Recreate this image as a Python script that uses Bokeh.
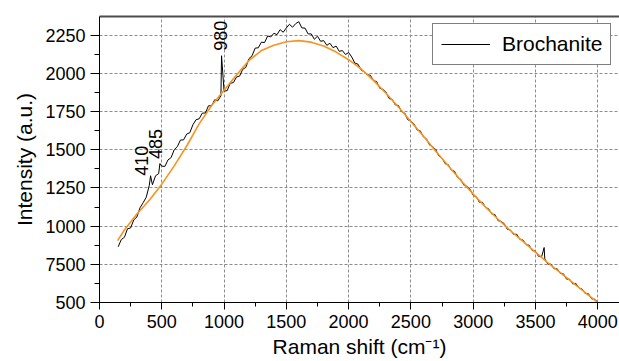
import numpy as np
from bokeh.plotting import figure
from bokeh.models import Range1d, FixedTicker, LinearAxis, Legend, LegendItem
from bokeh.core.properties import value
from bokeh.embed import file_html
from bokeh.resources import INLINE

# ---- data ----
black_x = list(range(150, 4001, 25))
black_y = [
    865, 912, 927, 983, 988, 1041, 1060, 1120, 1153, 1189,
    1268, 1271, 1330, 1344, 1393, 1391, 1434, 1449, 1501, 1521,
    1564, 1565, 1603, 1612, 1664, 1697, 1703, 1740, 1741, 1788,
    1789, 1828, 1821, 1854, 1885, 1887, 1936, 1940, 1977, 1983,
    2027, 2040, 2097, 2116, 2166, 2168, 2205, 2202, 2245, 2239,
    2263, 2254, 2287, 2270, 2298, 2322, 2303, 2326, 2339, 2298,
    2297, 2259, 2259, 2224, 2244, 2211, 2215, 2184, 2198, 2169,
    2179, 2145, 2150, 2124, 2137, 2108, 2068, 2061, 2024, 2010,
    1992, 1988, 1953, 1947, 1903, 1896, 1878, 1836, 1830, 1794,
    1790, 1750, 1741, 1697, 1689, 1670, 1630, 1625, 1585, 1572,
    1531, 1521, 1501, 1459, 1447, 1409, 1403, 1367, 1360, 1318,
    1307, 1268, 1260, 1242, 1202, 1193, 1157, 1156, 1122, 1113,
    1079, 1076, 1036, 1031, 1016, 979, 974, 946, 947, 913,
    909, 879, 875, 840, 836, 802, 800, 786, 751, 751,
    721, 721, 690, 688, 653, 652, 622, 625, 594, 588,
    559, 558, 525, 521, 503,
]
peak_x = [410, 485, 980, 3570]
peak_y = [1330, 1410, 2116, 860]

orange_x = [145, 200, 300, 400, 500, 600, 700, 800, 900, 1000, 1100, 1200, 1300,
            1400, 1500, 1600, 1700, 1800, 1900, 2000, 2100, 2200, 2300, 2400,
            2500, 2600, 2700, 2800, 2900, 3000, 3100, 3200, 3300, 3400, 3500,
            3600, 3700, 3800, 3900, 4000]
orange_y = [905, 975, 1080, 1170, 1275, 1395, 1525, 1670, 1790, 1890, 1990, 2085, 2150,
            2185, 2208, 2215, 2205, 2180, 2140, 2090, 2030, 1955, 1870, 1780,
            1685, 1590, 1490, 1395, 1300, 1210, 1125, 1045, 970, 900, 830,
            760, 695, 630, 565, 500]

x_ticks = [0, 500, 1000, 1500, 2000, 2500, 3000, 3500, 4000]
y_ticks = [500, 750, 1000, 1250, 1500, 1750, 2000, 2250]
y_tick_overrides = {750: "7500"}

annot_text = ["410", "485", "980"]
annot_x = [336, 451, 973]
annot_y = [1330, 1439, 2148]

series_label = "Brochanite"

# ---- build ----
pts = sorted(zip(black_x + peak_x, black_y + peak_y))
bx = [a for a, b in pts]
by = [b for a, b in pts]

FONT = "Liberation Sans"

p = figure(width=619, height=361, output_backend="svg", toolbar_location=None,
           x_range=Range1d(0, 4175), y_range=Range1d(500, 2373),
           min_border_left=99, min_border_right=0, min_border_top=16,
           min_border_bottom=59)
p.outline_line_color = None
p.background_fill_color = "white"
p.border_fill_color = "white"

xt = FixedTicker(ticks=x_ticks, minor_ticks=list(range(0, 4250, 250)))
yt = FixedTicker(ticks=y_ticks, minor_ticks=list(range(500, 2376, 125)))
p.xaxis.ticker = xt
p.yaxis.ticker = yt
p.xgrid.ticker = FixedTicker(ticks=x_ticks)
p.ygrid.ticker = FixedTicker(ticks=y_ticks)
p.yaxis.major_label_overrides = y_tick_overrides
p.xaxis.axis_label = "Raman shift (cm⁻¹)"
p.yaxis.axis_label = "Intensity (a.u.)"

for ax in (p.xaxis[0], p.yaxis[0]):
    ax.axis_line_color = "black"
    ax.axis_line_width = 1
    ax.major_tick_line_color = "black"
    ax.minor_tick_line_color = "black"
    ax.major_tick_out = 7
    ax.major_tick_in = 0
    ax.minor_tick_out = 4
    ax.minor_tick_in = 0
    ax.major_label_text_font = FONT
    ax.major_label_text_font_size = "18px"
    ax.major_label_text_color = "black"
    ax.axis_label_text_font = FONT
    ax.axis_label_text_font_size = "21px"
    ax.axis_label_text_font_style = "normal"
    ax.axis_label_text_color = "black"
p.yaxis.major_tick_out = 9
p.yaxis.minor_tick_out = 5
p.xaxis.major_label_standoff = 5
p.xaxis.axis_label_standoff = 4
p.yaxis.major_label_standoff = 5
p.yaxis.axis_label_standoff = 6

p.xgrid.grid_line_color = "#8c8c8c"
p.ygrid.grid_line_color = "#8c8c8c"
p.xgrid.grid_line_alpha = 1
p.ygrid.grid_line_alpha = 1
p.xgrid.grid_line_dash = "3 2"
p.ygrid.grid_line_dash = "3 2"
p.xgrid.grid_line_width = 1
p.ygrid.grid_line_width = 1

top = LinearAxis(ticker=FixedTicker(ticks=[]), axis_line_color="#4d4d4d",
                 axis_line_width=2, major_tick_line_color=None,
                 minor_tick_line_color=None, major_label_text_font_size="0px")
p.add_layout(top, "above")

r_black = p.line(bx, by, line_color="black", line_width=1)
r_orange = p.line(orange_x, orange_y, line_color="#f7931e", line_width=1.6)

p.text(x=annot_x, y=annot_y, text=annot_text, angle=np.pi / 2,
       text_align="left", text_baseline="middle",
       text_font=value(FONT), text_font_size="18px", text_color="black")

legend = Legend(items=[LegendItem(label=series_label, renderers=[r_black])],
                location=(333, 237), border_line_color="black",
                border_line_width=1, background_fill_color="white",
                background_fill_alpha=1, label_text_font=FONT,
                label_text_font_size="21px", label_text_color="black",
                glyph_width=49, glyph_height=20, label_height=20,
                padding=8, spacing=0, label_standoff=12, margin=0)
p.add_layout(legend)

open("out.html", "w").write(file_html(p, INLINE))
